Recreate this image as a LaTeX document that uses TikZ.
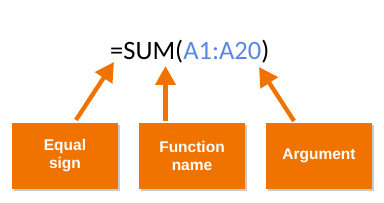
\documentclass[tikz,border=0pt]{standalone}
\usepackage{fontspec}
\setmainfont{Liberation Sans}
\newfontfamily\calib{Carlito}
\usetikzlibrary{arrows.meta,shadows}
\definecolor{orng}{RGB}{240,115,0}
\definecolor{cellblue}{RGB}{90,135,230}
\begin{document}
\begin{tikzpicture}[x=1pt,y=-1pt,
  lbl/.style={fill=orng, minimum width=106pt, minimum height=66pt, inner sep=0pt,
    text=white, font=\fontsize{15.5}{18}\selectfont\bfseries, align=center,
    drop shadow={shadow xshift=2pt, shadow yshift=-2pt, opacity=0.35, fill=black!60}},
  arr/.style={draw=orng, line width=4.3pt, -{Triangle[length=19pt,width=20pt]}}]
\useasboundingbox (0,0) rectangle (384,203);
\node[anchor=base west, inner sep=0pt, font=\calib\fontsize{26.5}{30}\selectfont] (f) at (110,60)
  {=SUM(\textcolor{cellblue}{A1:A20})};
\node[lbl] (eq) at (65,156) {Equal\\sign};
\node[lbl] (fn) at (192,156) {Function\\name};
\node[lbl] (ag) at (319,156) {Argument};
\coordinate (t1) at (114,62);
\coordinate (t2) at (165.5,66);
\coordinate (t3) at (259,67);
\coordinate (s1) at (76,120);
\coordinate (s2) at (165.5,121);
\coordinate (s3) at (294,121);
\draw[arr] (s1) -- (t1);
\draw[arr] (s2) -- (t2);
\draw[arr] (s3) -- (t3);
\end{tikzpicture}
\end{document}
